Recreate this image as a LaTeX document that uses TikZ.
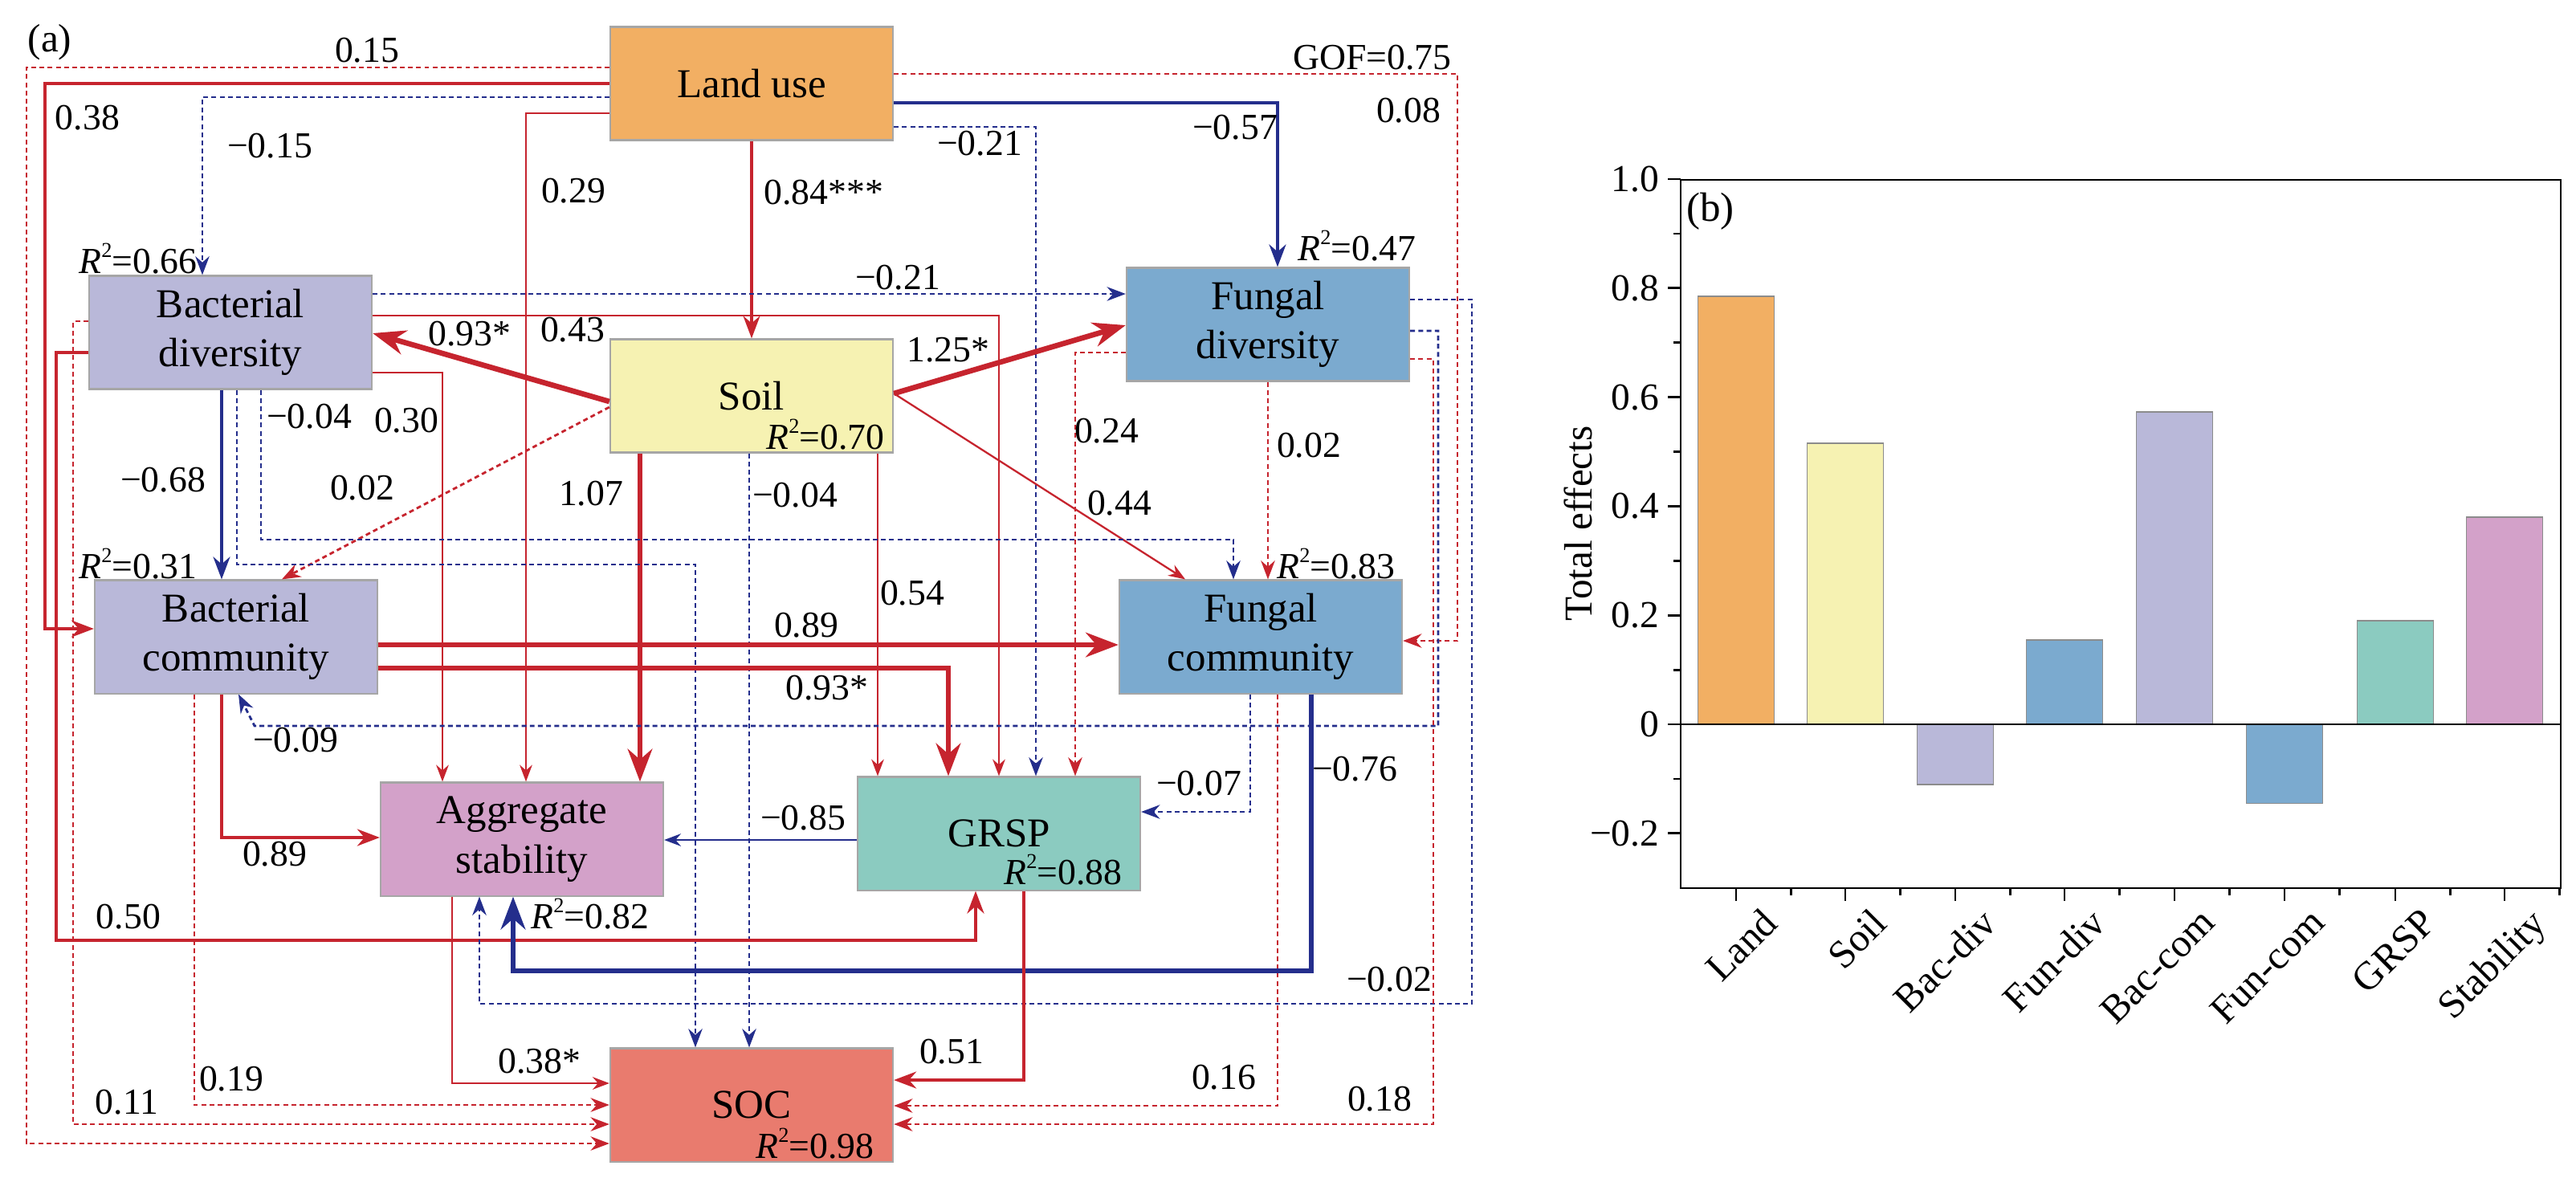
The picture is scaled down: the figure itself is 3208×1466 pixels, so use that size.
\documentclass[tikz,border=0pt]{standalone}
\usepackage{fontspec}
\setmainfont{Liberation Serif}
\usetikzlibrary{arrows.meta}
\definecolor{cland}{RGB}{242,175,99}
\definecolor{csoil}{RGB}{246,242,178}
\definecolor{cbac}{RGB}{185,184,217}
\definecolor{cfun}{RGB}{123,170,207}
\definecolor{cgrsp}{RGB}{139,203,192}
\definecolor{cagg}{RGB}{211,161,201}
\definecolor{csoc}{RGB}{233,123,110}
\definecolor{cpos}{RGB}{198,36,46}
\definecolor{cneg}{RGB}{36,46,140}
\newcommand{\rsq}[1]{\textit{R}\raisebox{0.42em}{\fontsize{7.5}{8}\selectfont 2}=#1}

\begin{document}
\begin{tikzpicture}[x=0.01cm,y=-0.01cm,>=Stealth]
\tikzstyle{box}=[draw=black!35, line width=0.6pt, minimum width=3.52cm, minimum height=1.41cm, align=center, inner sep=0pt, font=\fontsize{14.5}{17.5}\selectfont]
\tikzstyle{coef}=[inner sep=0pt, font=\fontsize{13}{15}\selectfont]
\tikzstyle{plink}=[draw=cpos, line width=0.65pt, ->]
\tikzstyle{nlink}=[draw=cneg, line width=0.65pt, ->]
\tikzstyle{ns}=[dash pattern=on 1.7pt off 1.2pt, line width=0.8pt]
\tikzstyle{midw}=[line width=1.1pt]
\tikzstyle{heavy}=[line width=1.9pt]
\useasboundingbox (0,0) rectangle (3208,1466);

% (a) path model
\node[box, fill=cland] (Land) at (936,104) {Land use};
\node[box, fill=cbac] (BacDiv) at (287,414) {Bacterial\\diversity};
\node[box, fill=csoil] (Soil) at (936,493) {Soil};
\node[box, fill=cfun] (FunDiv) at (1579,404) {Fungal\\diversity};
\node[box, fill=cbac] (BacCom) at (294,793) {Bacterial\\community};
\node[box, fill=cfun] (FunCom) at (1570,793) {Fungal\\community};
\node[box, fill=cagg] (Agg) at (650,1045) {Aggregate\\stability};
\node[box, fill=cgrsp] (GRSP) at (1244,1038) {GRSP};
\node[box, fill=csoc] (SOC) at (936,1376) {SOC};

% land use
\draw[plink,ns] (Land.west |- 0,84) -| (33,1424) -- (SOC.west |- 0,1424);
\draw[plink,midw] (Land.west |- 0,104) -| (56,783) -- (BacCom.west |- 0,783);
\draw[nlink,ns] (Land.west |- 0,121) -| (BacDiv.north -| 252,0);
\draw[plink] (Land.west |- 0,141) -| (Agg.north -| 655,0);
\draw[plink,midw] (Land) -- (Soil);
\draw[nlink,midw] (Land.east |- 0,128) -| (FunDiv.north -| 1591,0);
\draw[nlink,ns] (Land.east |- 0,158) -| (GRSP.north -| 1290,0);
\draw[plink,ns] (Land.east |- 0,92) -| (1815,798) -- (FunCom.east |- 0,798);

% soil
\draw[plink,heavy] (Soil.west |- 0,500) -- (BacDiv.east |- 0,415);
\draw[plink,heavy] (Soil.east |- 0,490) -- (FunDiv.west |- 0,405);
\draw[plink] (Soil.east |- 0,490) -- (FunCom.north -| 1476,0);
\draw[plink,ns] (Soil.west |- 0,507) -- (BacCom.north -| 351,0);
\draw[plink,heavy] (Soil.south -| 797,0) -- (Agg.north -| 797,0);
\draw[nlink,ns] (Soil.south -| 933,0) -- (SOC.north -| 933,0);
\draw[plink] (Soil.south -| 1093,0) -- (GRSP.north -| 1093,0);

% bacterial diversity
\draw[nlink,ns] (BacDiv.east |- 0,366) -- (FunDiv.west |- 0,366);
\draw[plink] (BacDiv.east |- 0,393) -| (GRSP.north -| 1244,0);
\draw[plink] (BacDiv.east |- 0,464) -| (Agg.north -| 551,0);
\draw[nlink,midw] (BacDiv.south -| 276,0) -- (BacCom.north -| 276,0);
\draw[nlink,ns] (BacDiv.south -| 295,0) |- (866,703) -- (SOC.north -| 866,0);
\draw[nlink,ns] (BacDiv.south -| 325,0) |- (1536,672) -- (FunCom.north -| 1536,0);
\draw[plink,ns] (BacDiv.west |- 0,400) -- (91,400) |- (SOC.west |- 0,1400);
\draw[plink,midw] (BacDiv.west |- 0,439) -- (70,439) |- (1215,1171) -- (GRSP.south -| 1215,0);

% fungal diversity
\draw[plink,ns] (FunDiv.west |- 0,439) -| (GRSP.north -| 1339,0);
\draw[plink,ns] (FunDiv.south -| 1579,0) -- (FunCom.north -| 1579,0);
\draw[nlink,ns] (FunDiv.east |- 0,373) -| (1833,1250) -| (Agg.south -| 597,0);
\draw[nlink,ns] (FunDiv.east |- 0,412) -| (1791,904) -- (317,904) -- (BacCom.south -| 297,0);
\draw[plink,ns] (FunDiv.east |- 0,447) -| (1785,1400) -- (SOC.east |- 0,1400);

% bacterial community
\draw[plink,heavy] (BacCom.east |- 0,803) -- (FunCom.west |- 0,803);
\draw[plink,heavy] (BacCom.east |- 0,832) -| (GRSP.north -| 1181,0);
\draw[plink,midw] (BacCom.south -| 276,0) |- (Agg.west |- 0,1043);
\draw[plink,ns] (BacCom.south -| 242,0) |- (SOC.west |- 0,1376);

% fungal community
\draw[nlink,ns] (FunCom.south -| 1557,0) |- (GRSP.east |- 0,1011);
\draw[plink,ns] (FunCom.south -| 1591,0) |- (SOC.east |- 0,1377);
\draw[nlink,heavy] (FunCom.south -| 1633,0) |- (639,1209) -- (Agg.south -| 639,0);

% GRSP and aggregates
\draw[nlink] (GRSP.west |- 0,1046) -- (Agg.east |- 0,1046);
\draw[plink,midw] (GRSP.south -| 1275,0) |- (SOC.east |- 0,1345);
\draw[plink] (Agg.south -| 563,0) |- (SOC.west |- 0,1349);

% coefficients
\node[coef, font=\fontsize{14}{16}\selectfont] (tag-a) at (62,53) {(a)};
\node[coef] (gof) at (1709,72) {GOF=0.75};
\node[coef] (k-land-soc) at (457,63) {0.15};
\node[coef] (k-land-bcom) at (109,147) {0.38};
\node[coef] (k-land-bdiv) at (336,182) {−0.15};
\node[coef] (k-land-agg) at (714,238) {0.29};
\node[coef, anchor=west] (k-land-soil) at (951,240) {0.84***};
\node[coef] (k-land-grsp) at (1220,179) {−0.21};
\node[coef] (k-land-fdiv) at (1538,159) {−0.57};
\node[coef] (k-land-fcom) at (1754,138) {0.08};
\node[coef] (r-bdiv) at (172,322) {\rsq{0.66}};
\node[coef] (r-fdiv) at (1690,306) {\rsq{0.47}};
\node[coef] (k-bdiv-fdiv) at (1118,346) {−0.21};
\node[coef] (k-bdiv-grsp) at (713,411) {0.43};
\node[coef] (k-soil-bdiv) at (585,416) {0.93*};
\node[coef] (k-soil-fdiv) at (1181,436) {1.25*};
\node[coef] (k-bdiv-fcom) at (385,519) {−0.04};
\node[coef] (k-bdiv-agg) at (506,524) {0.30};
\node[coef] (r-soil) at (1028,541) {\rsq{0.70}};
\node[coef] (k-fdiv-grsp) at (1378,537) {0.24};
\node[coef] (k-fdiv-fcom) at (1630,555) {0.02};
\node[coef] (k-bdiv-bcom) at (203,598) {−0.68};
\node[coef] (k-soil-bcom) at (451,608) {0.02};
\node[coef] (k-soil-agg) at (736,615) {1.07};
\node[coef] (k-soil-soc) at (990,617) {−0.04};
\node[coef] (k-soil-fcom) at (1394,627) {0.44};
\node[coef] (r-bcom) at (172,702) {\rsq{0.31}};
\node[coef] (r-fcom) at (1664,702) {\rsq{0.83}};
\node[coef] (k-soil-grsp) at (1136,739) {0.54};
\node[coef] (k-bcom-fcom) at (1004,779) {0.89};
\node[coef] (k-bcom-grsp) at (1030,857) {0.93*};
\node[coef] (k-fdiv-bcom) at (368,922) {−0.09};
\node[coef] (k-fcom-agg) at (1687,958) {−0.76};
\node[coef] (k-fcom-grsp) at (1493,976) {−0.07};
\node[coef] (k-grsp-agg) at (1000,1019) {−0.85};
\node[coef] (k-bcom-agg) at (342,1064) {0.89};
\node[coef] (r-grsp) at (1324,1083) {\rsq{0.88}};
\node[coef] (r-agg) at (735,1138) {\rsq{0.82}};
\node[coef] (k-bdiv-grsp2) at (160,1142) {0.50};
\node[coef] (k-fdiv-agg) at (1730,1220) {−0.02};
\node[coef] (k-grsp-soc) at (1185,1310) {0.51};
\node[coef] (k-agg-soc) at (672,1322) {0.38*};
\node[coef] (k-bcom-soc) at (288,1344) {0.19};
\node[coef] (k-fcom-soc) at (1524,1342) {0.16};
\node[coef] (k-fdiv-soc) at (1718,1369) {0.18};
\node[coef] (k-bdiv-soc) at (158,1373) {0.11};
\node[coef] (r-soc) at (1015,1424) {\rsq{0.98}};

% (b) total effects
\foreach \x/\v/\c in {2162/0.785/cland, 2298/0.516/csoil, 2435/-0.110/cbac, 2571/0.155/cfun, 2708/0.573/cbac, 2845/-0.145/cfun, 2983/0.190/cgrsp, 3119/0.380/cagg}
  \draw[fill=\c, draw=black!45, line width=0.5pt] ({\x-47.5},902) rectangle ({\x+47.5},{902-679*\v});
\draw[line width=0.8pt] (2093,224) rectangle (3189,1106);
\draw[line width=0.8pt] (2093,902) -- (3189,902);
\foreach \v/\t [count=\k] in {-0.2/−0.2, 0/0, 0.2/0.2, 0.4/0.4, 0.6/0.6, 0.8/0.8, 1.0/1.0} {
  \draw[line width=0.8pt] (2093,{902-679*\v}) -- ++(-16,0);
  \node[coef, anchor=east, font=\fontsize{13.5}{15}\selectfont] (ytick\k) at (2067,{902-679*\v}) {\t};
}
\foreach \v in {-0.1,0.1,0.3,0.5,0.7,0.9}
  \draw[line width=0.8pt] (2093,{902-679*\v}) -- ++(-9,0);
\foreach \x/\n [count=\k] in {2162/Land, 2298/Soil, 2435/Bac-div, 2571/Fun-div, 2708/Bac-com, 2845/Fun-com, 2983/GRSP, 3119/Stability} {
  \draw[line width=0.8pt] (\x,1106) -- ++(0,16);
  \draw[line width=0.8pt] ({\x+68.35},1106) -- ++(0,9);
  \node[coef, rotate=45, anchor=north east, font=\fontsize{14}{16}\selectfont] (xtick\k) at ({\x+30},1128) {\n};
}
\node[coef, rotate=90, font=\fontsize{14}{16}\selectfont] (ylab) at (1965,652) {Total effects};
\node[coef, font=\fontsize{14.5}{16}\selectfont] (tag-b) at (2130,263) {(b)};
\end{tikzpicture}
\end{document}
